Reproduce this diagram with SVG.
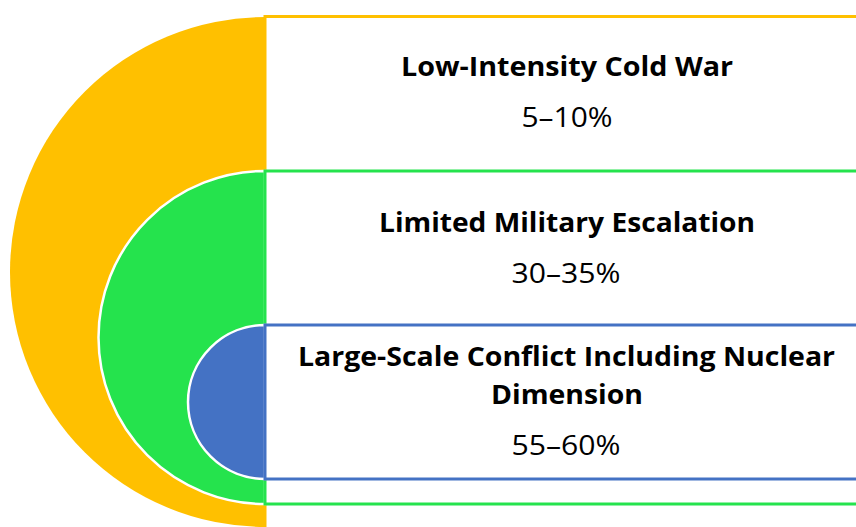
<svg xmlns="http://www.w3.org/2000/svg" width="856" height="527" viewBox="0 0 856 527">
<style>
.title{font-family:"Open Sans","Liberation Sans",sans-serif;font-weight:bold;font-size:26px;fill:#000;text-anchor:middle}
.val{font-family:"Open Sans","Liberation Sans",sans-serif;font-size:27px;fill:#000;text-anchor:middle}
.box{fill:#fff;stroke-width:3}
.arc{stroke:#fff;stroke-width:2.5}
</style>
<rect width="856" height="527" fill="#fff"/>
<g id="low-intensity">
<path d="M265,17 A255,255 0 0 0 265,527 Z" fill="#FFC000"/>
<rect class="box" x="265" y="16.5" width="600" height="530" stroke="#FFC000"/>
<text class="title" x="567" y="76" textLength="332" lengthAdjust="spacingAndGlyphs">Low-Intensity Cold War</text>
<text class="val" x="567" y="127" textLength="91" lengthAdjust="spacingAndGlyphs">5–10%</text>
</g>
<g id="limited-escalation">
<path class="arc" d="M265,171 A166.5,166.5 0 0 0 265,504 Z" fill="#25E34D"/>
<rect class="box" x="265" y="171" width="600" height="333" stroke="#25E34D"/>
<text class="title" x="567" y="232" textLength="376" lengthAdjust="spacingAndGlyphs">Limited Military Escalation</text>
<text class="val" x="566" y="283" textLength="109" lengthAdjust="spacingAndGlyphs">30–35%</text>
</g>
<g id="large-scale">
<path class="arc" d="M265,325 A77,77 0 0 0 265,479 Z" fill="#4472C4"/>
<rect class="box" x="265" y="325" width="600" height="154" stroke="#4472C4"/>
<text class="title" x="566.5" y="366" textLength="537" lengthAdjust="spacingAndGlyphs">Large-Scale Conflict Including Nuclear</text>
<text class="title" x="567" y="404" textLength="152" lengthAdjust="spacingAndGlyphs">Dimension</text>
<text class="val" x="566" y="455" textLength="109" lengthAdjust="spacingAndGlyphs">55–60%</text>
</g>
<g id="connectors"></g>
</svg>
